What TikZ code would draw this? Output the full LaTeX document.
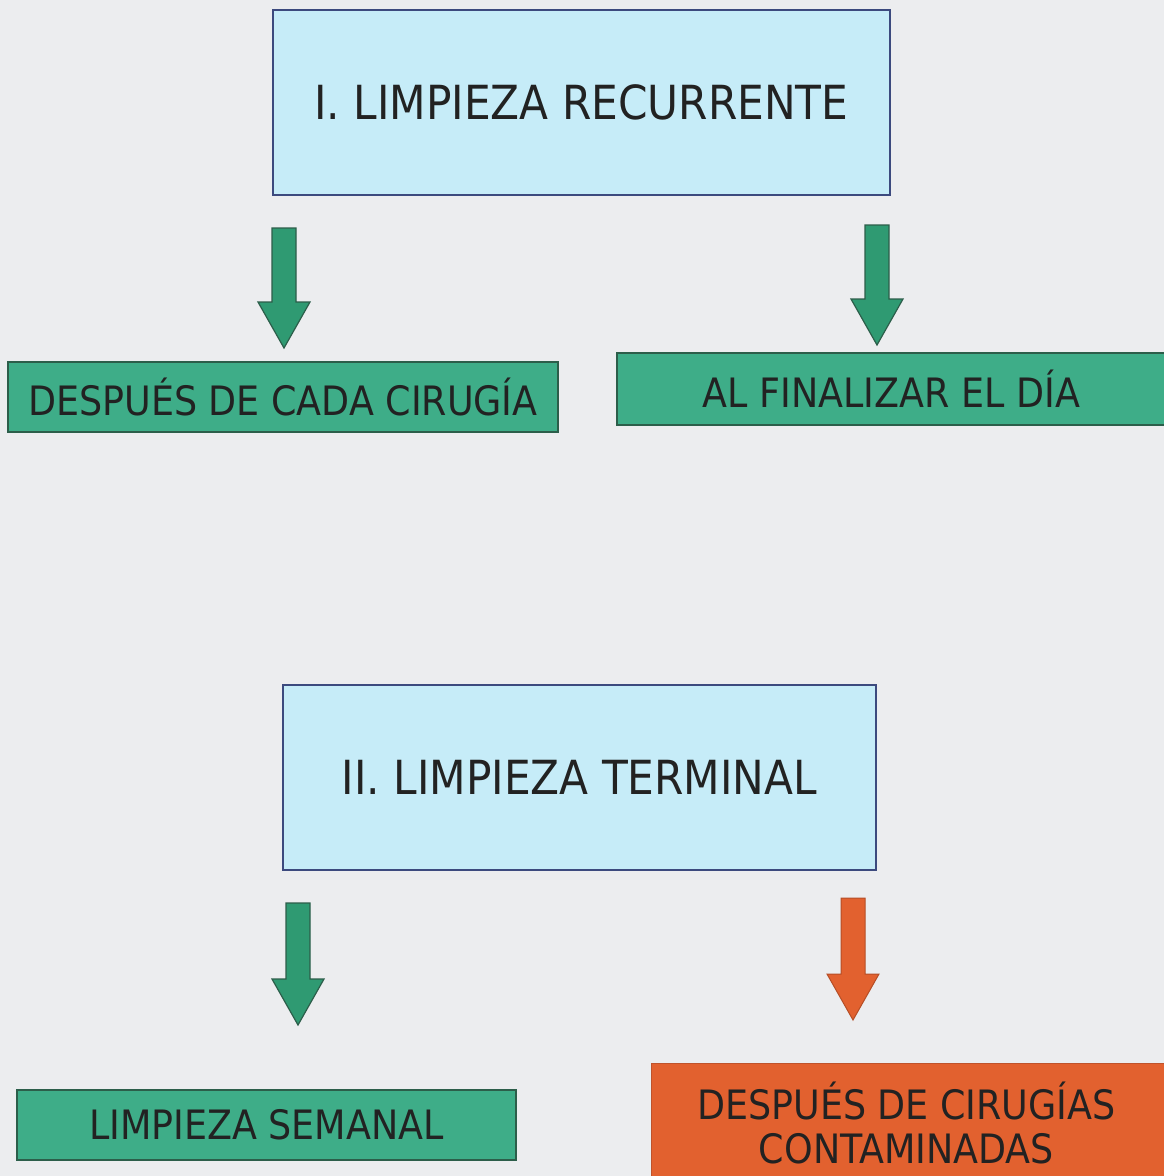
\documentclass[tikz,border=0pt]{standalone}
\usepackage{fontspec}
\setmainfont{DejaVu Sans Condensed}
\usetikzlibrary{calc}
\definecolor{bgc}{HTML}{ECEDEF}
\definecolor{lblue}{HTML}{C6ECF8}
\definecolor{dblue}{HTML}{3C4A7E}
\definecolor{tgreen}{HTML}{3EAD88}
\definecolor{dgreen}{HTML}{2C5E4A}
\definecolor{agreen}{HTML}{2F9A72}
\definecolor{orng}{HTML}{E2612F}
\definecolor{dorng}{HTML}{A8492A}
\definecolor{txt}{HTML}{222222}
\tikzset{
  titlebox/.style={draw=dblue, line width=1.6pt, fill=lblue, text=txt, inner sep=0pt,
    font=\fontsize{47}{54}\selectfont},
  greenbox/.style={draw=dgreen, line width=1.4pt, fill=tgreen, text=txt, inner sep=0pt,
    font=\fontsize{40.5}{46}\selectfont},
  orangebox/.style={draw=dorng!60!orng, line width=1pt, fill=orng, text=txt, inner sep=0pt, align=center,
    font=\fontsize{40.5}{44}\selectfont},
  garrow/.style={fill=agreen, draw=dgreen, line width=1.2pt, line join=miter},
  oarrow/.style={fill=orng, draw=orng!80!black, line width=1pt, line join=miter}
}
\newcommand\blockarrow[3]{%
  \path[#3] let \p1=(#1), \p2=(#2) in
    (\x1-12pt,\y1) -- (\x1+12pt,\y1) -- (\x1+12pt,\y2+46pt) -- (\x1+26pt,\y2+46pt)
    -- (\x1,\y2) -- (\x1-26pt,\y2+46pt) -- (\x1-12pt,\y2+46pt) -- cycle;}
\begin{document}
\begin{tikzpicture}[x=1pt,y=-1pt]
\useasboundingbox (0,0) rectangle (1164,1176);
\fill[bgc] (0,0) rectangle (1164,1176);
% boxes
\node[titlebox, minimum width=617, minimum height=185] (t1) at (581.5,102.5) {I. LIMPIEZA RECURRENTE};
\node[greenbox, minimum width=550, minimum height=70] (g1) at (283,397) {DESPUÉS DE CADA CIRUGÍA};
\node[greenbox, minimum width=560, minimum height=72] (g2) at (897,389) {\hspace*{-11pt}AL FINALIZAR EL DÍA};
\node[titlebox, minimum width=593, minimum height=185] (t2) at (579.5,777.5) {II. LIMPIEZA TERMINAL};
\node[greenbox, minimum width=499, minimum height=70] (g3) at (266.5,1125) {LIMPIEZA SEMANAL};
\node[orangebox, minimum width=525, minimum height=120] (o1) at (913.5,1123) {\hspace*{-14pt}DESPUÉS DE CIRUGÍAS\\\hspace*{-14pt}CONTAMINADAS};
% arrows
\coordinate (a1s) at (284,228);  \coordinate (a1e) at (284,348);
\coordinate (a2s) at (877,225);  \coordinate (a2e) at (877,345);
\coordinate (a3s) at (298,903);  \coordinate (a3e) at (298,1025);
\coordinate (a4s) at (853,898);  \coordinate (a4e) at (853,1020);
\blockarrow{a1s}{a1e}{garrow}
\blockarrow{a2s}{a2e}{garrow}
\blockarrow{a3s}{a3e}{garrow}
\blockarrow{a4s}{a4e}{oarrow}
\end{tikzpicture}
\end{document}
